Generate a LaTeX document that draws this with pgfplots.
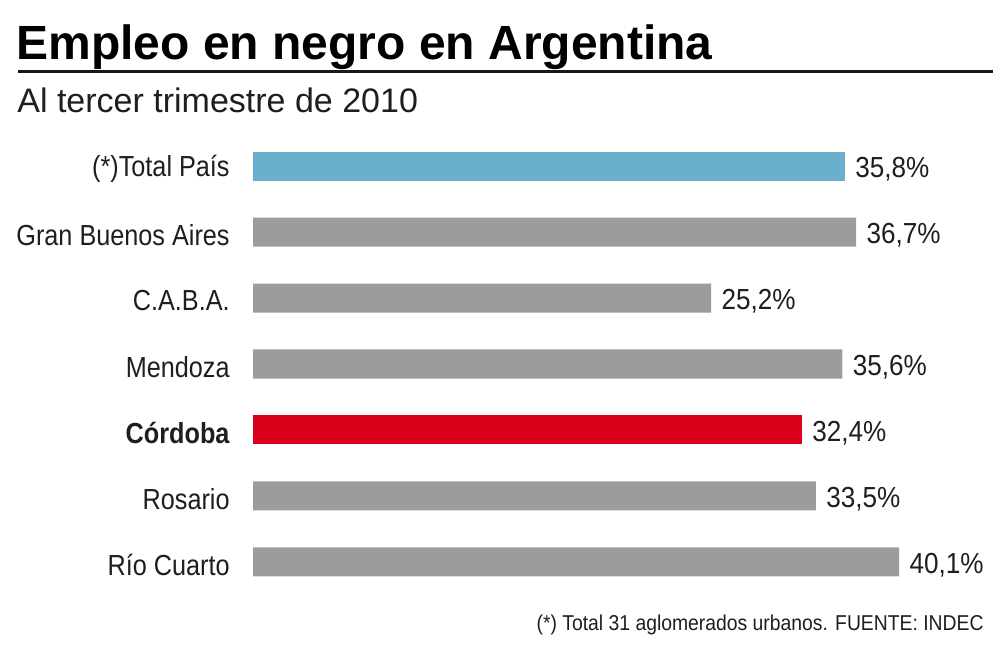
\documentclass[border=0pt]{standalone}
\usepackage{pgfplots}
\pgfplotsset{compat=1.18}
\usepackage{pgfplotstable}
\usepackage{fontspec}
\setmainfont{Liberation Sans}
\newfontfamily\catfont{Liberation Sans}[FakeStretch=0.87]
\newfontfamily\numfont{Liberation Sans}[FakeStretch=0.9]
\newfontfamily\notefont{Liberation Sans}[FakeStretch=0.9]

\definecolor{barblue}{HTML}{6AAFCB}
\definecolor{bargray}{HTML}{9C9C9C}
\definecolor{barred}{HTML}{D8001B}
\definecolor{textgray}{HTML}{1E1E1E}

% position 0 = top row
\pgfplotstableread{
pos val
0 35.8
}\totaltbl
\pgfplotstableread{
pos val
1 36.7
2 25.2
3 35.6
5 33.5
6 40.1
}\graytbl
\pgfplotstableread{
pos val
4 32.4
}\cordobatbl

\begin{document}
\begin{tikzpicture}[x=0.5pt,y=0.5pt]
\path (0,0) rectangle (1000,660);

\node[anchor=base west, inner sep=0pt, text=black,
      font=\bfseries\fontsize{24}{28}\selectfont] at (16,600)
  {Empleo en negro en Argentina};
\draw[line width=1.5pt, black!90] (18,588) -- (993,588);
\node[anchor=base west, inner sep=0pt, text=textgray,
      font=\fontsize{17}{20}\selectfont] at (17,547)
  {Al tercer trimestre de 2010};

\begin{axis}[
  at={(126.5pt,263.5pt)}, anchor=north west,
  scale only axis, width=368.5pt, height=231pt,
  x coord trafo/.code={\pgfmathparse{#1+11.1}},
  x coord inv trafo/.code={\pgfmathparse{#1-11.1}},
  xmin=-11.1, xmax=47.3, ymin=-0.5, ymax=6.5,
  y dir=reverse,
  xbar, bar width=14.5pt, bar shift=0pt,
  clip=false,
  axis line style={draw=none},
  major tick length=0pt,
  xtick=\empty,
  ytick={0,...,6},
  yticklabels={(*)Total País, Gran Buenos Aires, C.A.B.A., Mendoza,
               \textbf{Córdoba}, Rosario, Río Cuarto},
  yticklabel style={font=\catfont\fontsize{14.5}{16}\selectfont,
                    text=textgray, inner sep=0pt, xshift=-11.5pt,
                    yshift=-1.5pt},
  /pgf/number format/assume math mode=true,
  nodes near coords={\pgfmathprintnumber[use comma,fixed,fixed zerofill,precision=1]{\pgfplotspointmeta}\%},
  nodes near coords style={anchor=west, inner sep=0pt, xshift=5pt,
                           yshift=-1.5pt,
                           font=\numfont\fontsize{14.5}{16}\selectfont,
                           text=textgray},
]
\addplot[draw=none, fill=barblue, point meta=\thisrow{val}]
  table[x=val, y=pos] {\totaltbl};
\addplot[draw=none, fill=bargray, point meta=\thisrow{val}]
  table[x=val, y=pos] {\graytbl};
\addplot[draw=none, fill=barred, point meta=\thisrow{val}]
  table[x=val, y=pos] {\cordobatbl};
\end{axis}

\node[anchor=base east, inner sep=0pt, text=textgray,
      font=\notefont\fontsize{10.75}{12}\selectfont] at (984,30)
  {(*) Total 31 aglomerados urbanos. FUENTE: INDEC};
\end{tikzpicture}
\end{document}
